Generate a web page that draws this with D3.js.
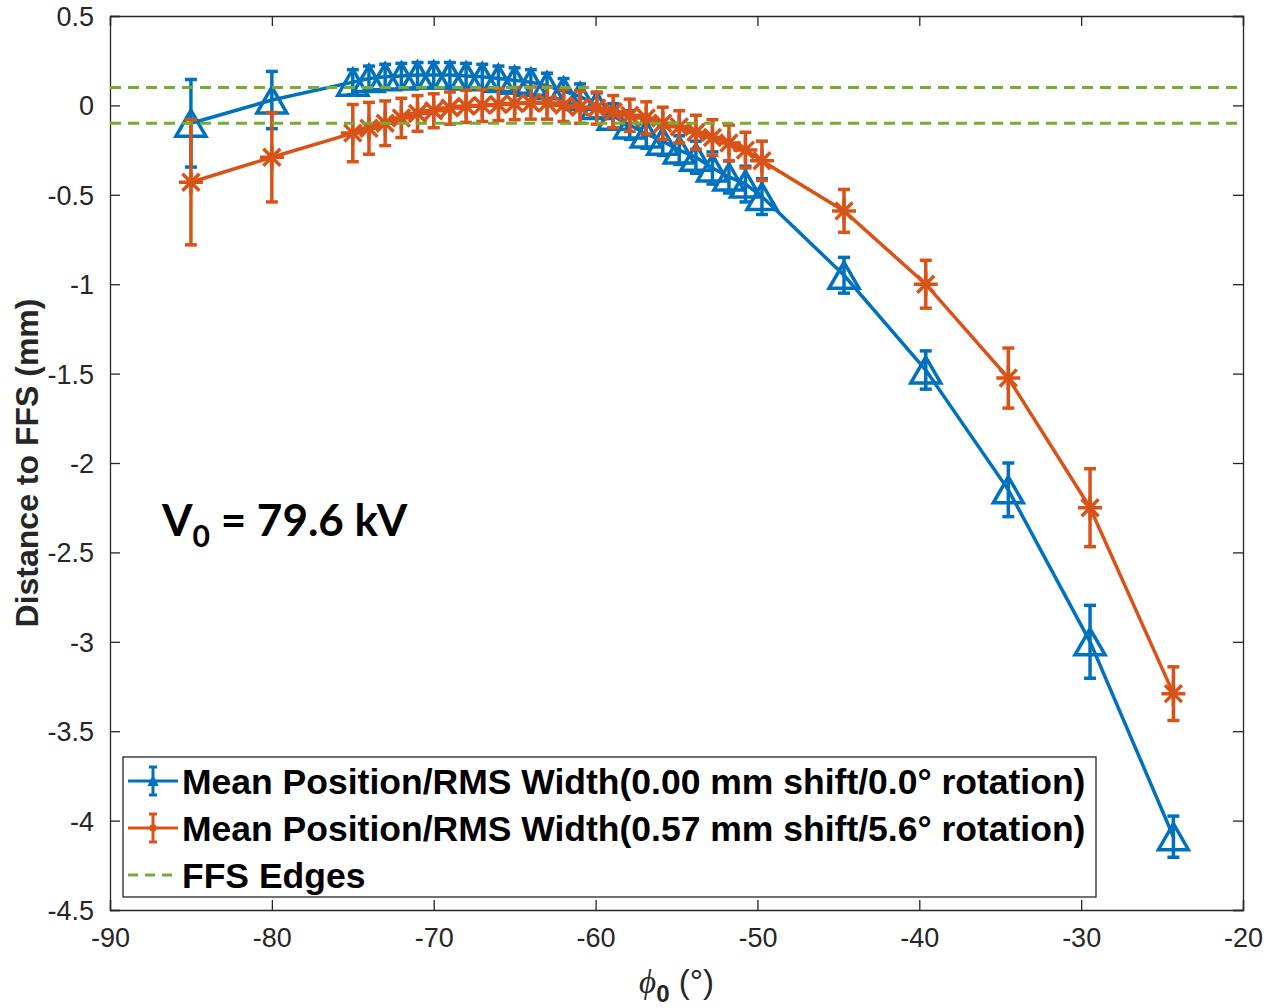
<!DOCTYPE html>
<html>
<head>
<meta charset="utf-8">
<script src="https://cdn.jsdelivr.net/npm/d3@7"></script>
<style>
  body { margin: 0; background: #fff; }
</style>
</head>
<body>
<div id="chart-area"></div>
<script>
// data
const phi = [-85, -80, -75, -74, -73, -72, -71, -70, -69, -68, -67, -66, -65, -64, -63,
  -61.98, -60.96, -59.93, -58.91, -57.89, -56.87, -55.85, -54.83, -53.8, -52.78, -51.76, -50.74, -49.72,
  -44.65, -39.6, -34.5, -29.45, -24.3]
const blueMean = [-0.10, 0.03, 0.13, 0.15, 0.16, 0.165, 0.17, 0.17, 0.17, 0.165, 0.16, 0.15, 0.14, 0.13, 0.11,
  0.08, 0.05, 0.0, -0.06, -0.11, -0.16, -0.20, -0.25, -0.29, -0.35, -0.40, -0.44, -0.51,
  -0.95, -1.48, -2.15, -3.0, -4.09]
const blueErr = [0.245, 0.16, 0.07, 0.07, 0.07, 0.07, 0.07, 0.07, 0.07, 0.07, 0.07, 0.07, 0.07, 0.07, 0.07,
  0.07, 0.07, 0.07, 0.07, 0.08, 0.08, 0.08, 0.08, 0.09, 0.09, 0.09, 0.1, 0.1,
  0.1, 0.107, 0.15, 0.204, 0.115]
const orangeMean = [-0.43, -0.29, -0.155, -0.128, -0.1, -0.07, -0.045, -0.03, -0.015, -0.005, 0.0, 0.005, 0.01, 0.013, 0.013,
  0.0, -0.01, -0.015, -0.035, -0.055, -0.07, -0.1, -0.12, -0.15, -0.18, -0.21, -0.25, -0.31,
  -0.59, -1.0, -1.525, -2.25, -3.29]
const orangeErr = [0.35, 0.25, 0.16, 0.145, 0.125, 0.11, 0.1, 0.095, 0.09, 0.09, 0.09, 0.09, 0.09, 0.09, 0.09,
  0.09, 0.09, 0.09, 0.09, 0.09, 0.09, 0.09, 0.09, 0.095, 0.1, 0.1, 0.1, 0.11,
  0.12, 0.134, 0.168, 0.218, 0.15]
const ffsEdges = [0.1, -0.1]
const xTicks = [-90, -80, -70, -60, -50, -40, -30, -20]
const yTicks = [0.5, 0, -0.5, -1, -1.5, -2, -2.5, -3, -3.5, -4, -4.5]
const legendLabels = [
  "Mean Position/RMS Width(0.00 mm shift/0.0\u00B0 rotation)",
  "Mean Position/RMS Width(0.57 mm shift/5.6\u00B0 rotation)",
  "FFS Edges"
]

const BLUE = "#0072BD"
const ORANGE = "#D95319"
const GREEN = "#77AC30"

const W = 1268, H = 1008
const MARGIN = { LEFT: 110, RIGHT: 25, TOP: 16, BOTTOM: 98 }
const WIDTH = W - MARGIN.LEFT - MARGIN.RIGHT
const HEIGHT = H - MARGIN.TOP - MARGIN.BOTTOM

const svg = d3.select("#chart-area").append("svg")
  .attr("width", W)
  .attr("height", H)
const g = svg.append("g")
  .attr("transform", `translate(${MARGIN.LEFT}, ${MARGIN.TOP})`)

// Scales
const x = d3.scaleLinear().domain([-90, -20]).range([0, WIDTH])
const y = d3.scaleLinear().domain([-4.5, 0.5]).range([HEIGHT, 0])

// plain hyphen minus like MATLAB
const fmt = d => String(d)

// Axes (ticks inside, box on)
const tickFont = "'Liberation Sans', Arial, sans-serif"
const xAxis = g.append("g").attr("transform", `translate(0, ${HEIGHT})`)
  .call(d3.axisBottom(x).tickValues(xTicks).tickSize(-10).tickPadding(18).tickFormat(fmt))
const xTop = g.append("g")
  .call(d3.axisTop(x).tickValues(xTicks).tickSize(-10).tickFormat(""))
const yAxis = g.append("g")
  .call(d3.axisLeft(y).tickValues(yTicks).tickSize(-10).tickPadding(16).tickFormat(fmt))
const yRight = g.append("g").attr("transform", `translate(${WIDTH}, 0)`)
  .call(d3.axisRight(y).tickValues(yTicks).tickSize(-10).tickFormat(""))

;[xAxis, xTop, yAxis, yRight].forEach(a => {
  a.selectAll("path").attr("stroke", "#262626").attr("stroke-width", 1.3)
  a.selectAll("line").attr("stroke", "#262626").attr("stroke-width", 1.3)
  a.selectAll("text").attr("fill", "#262626")
    .style("font-family", tickFont).style("font-size", "27px")
})
yAxis.selectAll("text").attr("dy", "0.35em")

// series
function drawSeries(means, errs, color, marker) {
  const pts = phi.map((p, i) => ({ p, m: means[i], e: errs[i] }))
  const s = g.append("g")

  s.append("path")
    .datum(pts)
    .attr("fill", "none")
    .attr("stroke", color)
    .attr("stroke-width", 3.5)
    .attr("d", d3.line().x(d => x(d.p)).y(d => y(d.m)))

  const eb = s.selectAll(".eb").data(pts).enter().append("g")
    .attr("stroke", color).attr("stroke-width", 3.5).attr("fill", "none")
  eb.append("line")
    .attr("x1", d => x(d.p)).attr("x2", d => x(d.p))
    .attr("y1", d => y(d.m + d.e)).attr("y2", d => y(d.m - d.e))
  eb.append("line")
    .attr("x1", d => x(d.p) - 6).attr("x2", d => x(d.p) + 6)
    .attr("y1", d => y(d.m + d.e)).attr("y2", d => y(d.m + d.e))
  eb.append("line")
    .attr("x1", d => x(d.p) - 6).attr("x2", d => x(d.p) + 6)
    .attr("y1", d => y(d.m - d.e)).attr("y2", d => y(d.m - d.e))

  s.selectAll(".mk").data(pts).enter().append("path")
    .attr("transform", d => `translate(${x(d.p)}, ${y(d.m)})`)
    .attr("d", marker)
    .attr("fill", "none")
    .attr("stroke", color)
    .attr("stroke-width", 3.5)
}

function triangle(w, h) {
  return `M0,${-h / 2}L${w / 2},${h / 2}L${-w / 2},${h / 2}Z`
}
function asterisk(r) {
  const d = r * Math.SQRT1_2
  return `M${-r},0L${r},0M0,${-r}L0,${r}M${-d},${-d}L${d},${d}M${-d},${d}L${d},${-d}`
}

drawSeries(blueMean, blueErr, BLUE, triangle(30, 26))
drawSeries(orangeMean, orangeErr, ORANGE, asterisk(12))

// FFS edges
g.selectAll(".ffs").data(ffsEdges).enter().append("line")
  .attr("x1", 0).attr("x2", WIDTH)
  .attr("y1", d => y(d)).attr("y2", d => y(d))
  .attr("stroke", GREEN)
  .attr("stroke-width", 3)
  .attr("stroke-dasharray", "11,7")

// Annotation
const ann = svg.append("text")
  .attr("x", 162).attr("y", 536)
  .style("font-family", "Lato, 'Open Sans', sans-serif")
  .style("font-weight", "bold")
  .style("font-size", "44px")
  .attr("fill", "#000")
ann.append("tspan").text("V")
ann.append("tspan").attr("dy", 11).style("font-size", "30px").text("0")
ann.append("tspan").attr("dy", -11).text(" = 79.6 kV")

// Legend
const legend = svg.append("g").attr("transform", "translate(123, 757)")
legend.append("rect")
  .attr("width", 973).attr("height", 140)
  .attr("fill", "#fff").attr("stroke", "#262626").attr("stroke-width", 1.3)

legendLabels.forEach((label, i) => {
  const row = legend.append("g").attr("transform", `translate(0, ${24 + i * 47})`)
  if (i < 2) {
    const c = i === 0 ? BLUE : ORANGE
    row.append("line").attr("x1", 5).attr("x2", 55).attr("y1", 0).attr("y2", 0)
      .attr("stroke", c).attr("stroke-width", 3)
    row.append("line").attr("x1", 30).attr("x2", 30).attr("y1", -14).attr("y2", 14)
      .attr("stroke", c).attr("stroke-width", 3)
    row.append("line").attr("x1", 26).attr("x2", 34).attr("y1", -14).attr("y2", -14)
      .attr("stroke", c).attr("stroke-width", 3)
    row.append("line").attr("x1", 26).attr("x2", 34).attr("y1", 14).attr("y2", 14)
      .attr("stroke", c).attr("stroke-width", 3)
    row.append("path").attr("transform", "translate(30,0)")
      .attr("d", i === 0 ? triangle(8, 8) : asterisk(4))
      .attr("fill", c).attr("stroke", c).attr("stroke-width", 2)
  } else {
    row.append("line").attr("x1", 5).attr("x2", 55).attr("y1", 0).attr("y2", 0)
      .attr("stroke", GREEN).attr("stroke-width", 3).attr("stroke-dasharray", "10,7")
  }
  row.append("text")
    .attr("x", 59).attr("y", 0).attr("dy", "0.36em")
    .style("font-family", "'Liberation Sans', Arial, sans-serif")
    .style("font-weight", "bold")
    .style("font-size", "35.5px")
    .attr("fill", "#000")
    .text(label)
})

// Axis labels
svg.append("text")
  .attr("transform", `translate(38, ${MARGIN.TOP + HEIGHT / 2}) rotate(-90)`)
  .attr("text-anchor", "middle")
  .style("font-family", "'Liberation Sans', Arial, sans-serif")
  .style("font-weight", "bold")
  .style("font-size", "32px")
  .attr("fill", "#262626")
  .text("Distance to FFS (mm)")

const xl = svg.append("text")
  .attr("x", MARGIN.LEFT + WIDTH / 2).attr("y", 993)
  .attr("text-anchor", "middle")
  .style("font-family", "'Liberation Sans', Arial, sans-serif")
  .style("font-size", "33px")
  .attr("fill", "#262626")
xl.append("tspan").style("font-family", "'Liberation Serif', serif").style("font-style", "italic").text("\u03D5")
xl.append("tspan").attr("dy", 9).style("font-size", "24px").style("font-weight", "bold").text("0")
xl.append("tspan").attr("dy", -9).text(" (\u00B0)")
</script>
</body>
</html>
